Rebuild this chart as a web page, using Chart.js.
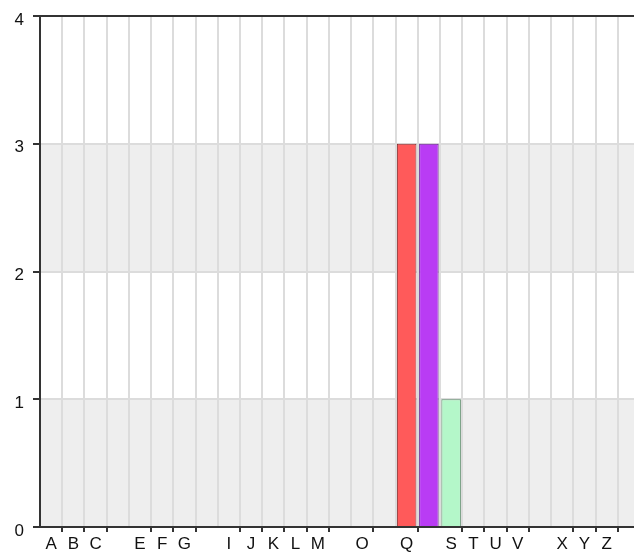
<!DOCTYPE html>
<html>
<head>
<meta charset="utf-8">
<script src="https://cdn.jsdelivr.net/npm/chart.js@4.4.1/dist/chart.umd.min.js"></script>
<style>
  html, body { margin: 0; padding: 0; overflow: hidden; background: #ffffff; }
  #wrap { width: 640px; height: 552px; }
</style>
</head>
<body>
<div id="wrap"><canvas id="c" width="640" height="552"></canvas></div>
<script>
// Categories (one trailing blank slot continues past the right edge)
const categories = ['A','B','C','D','E','F','G','H','I','J','K','L','M','N','O','P','Q','R','S','T','U','V','W','X','Y','Z',''];
// Tick labels shown under the axis (blank ones are not printed)
const tickLabels = ['A','B','C','','E','F','G','','I','J','K','L','M','','O','','Q','','S','T','U','V','','X','Y','Z',''];
// Series values per category
const values = [null,null,null,null,null,null,null,null,null,null,null,null,null,null,null,null,3,3,1,null,null,null,null,null,null,null,null];
const barColors = ['#ff5a5a','#ff5a5a','#ff5a5a','#ff5a5a','#ff5a5a','#ff5a5a','#ff5a5a','#ff5a5a','#ff5a5a','#ff5a5a','#ff5a5a','#ff5a5a','#ff5a5a','#ff5a5a','#ff5a5a','#ff5a5a','#ff5a5a','#b93cf4','#b4f7c9','#ff5a5a','#ff5a5a','#ff5a5a','#ff5a5a','#ff5a5a','#ff5a5a','#ff5a5a','#ff5a5a'];
const barBorders = ['#8a3030','#8a3030','#8a3030','#8a3030','#8a3030','#8a3030','#8a3030','#8a3030','#8a3030','#8a3030','#8a3030','#8a3030','#8a3030','#8a3030','#8a3030','#8a3030','#8a3030','#6a2290','#5f8f6e','#8a3030','#8a3030','#8a3030','#8a3030','#8a3030','#8a3030','#8a3030','#8a3030'];
// Y tick values
const yTicks = [0, 1, 2, 3, 4];
const shadedBands = [[0, 1], [2, 3]];

const dark = '#333333';
const font = { family: '"Liberation Sans", Arial, sans-serif', size: 17 };

const bandPlugin = {
  id: 'bands',
  beforeDraw(chart) {
    const { ctx, chartArea, scales } = chart;
    ctx.save();
    ctx.fillStyle = '#eeeeee';
    shadedBands.forEach(([a, b]) => {
      const y1 = scales.y.getPixelForValue(b);
      const y2 = scales.y.getPixelForValue(a);
      ctx.fillRect(chartArea.left, y1, chartArea.right - chartArea.left, y2 - y1);
    });
    ctx.restore();
  }
};

new Chart(document.getElementById('c'), {
  type: 'bar',
  data: {
    labels: categories,
    datasets: [{
      data: values,
      backgroundColor: barColors,
      borderColor: barBorders,
      borderWidth: 1,
      barPercentage: 0.88,
      categoryPercentage: 1.0
    }]
  },
  options: {
    responsive: false,
    animation: false,
    devicePixelRatio: 1,
    layout: { padding: { top: 16, right: 0, left: 0, bottom: 0 } },
    plugins: { legend: { display: false }, tooltip: { enabled: false } },
    scales: {
      x: {
        type: 'category',
        offset: true,
        afterFit: s => { s.height = 25; s.paddingLeft = 0; s.paddingRight = 0; },
        grid: {
          offset: true,
          color: '#dcdcdc',
          lineWidth: 2,
          tickLength: 5,
          tickWidth: 2,
          tickColor: ctx => {
            const i = ctx.index;
            if (i === undefined || i < 1) return 'rgba(0,0,0,0)';
            return tickLabels[i - 1] ? dark : 'rgba(0,0,0,0)';
          }
        },
        border: { display: true, color: dark, width: 2 },
        ticks: {
          autoSkip: false,
          maxRotation: 0,
          padding: 2,
          color: '#111111',
          font: font,
          callback: (v, i) => tickLabels[i]
        }
      },
      y: {
        min: 0,
        max: 4,
        afterFit: s => { s.width = 40; s.paddingTop = 0; s.paddingBottom = 0; },
        afterBuildTicks: s => { s.ticks = yTicks.map(v => ({ value: v })); },
        grid: {
          color: ctx => (ctx.tick && ctx.tick.value === 4) ? dark : '#dcdcdc',
          lineWidth: 2,
          tickLength: 7,
          tickWidth: 2,
          tickColor: dark
        },
        border: { display: true, color: dark, width: 2 },
        ticks: {
          padding: 9,
          labelOffset: 4,
          color: '#111111',
          font: font,
          callback: v => String(v)
        }
      }
    }
  },
  plugins: [bandPlugin]
});
</script>
</body>
</html>
